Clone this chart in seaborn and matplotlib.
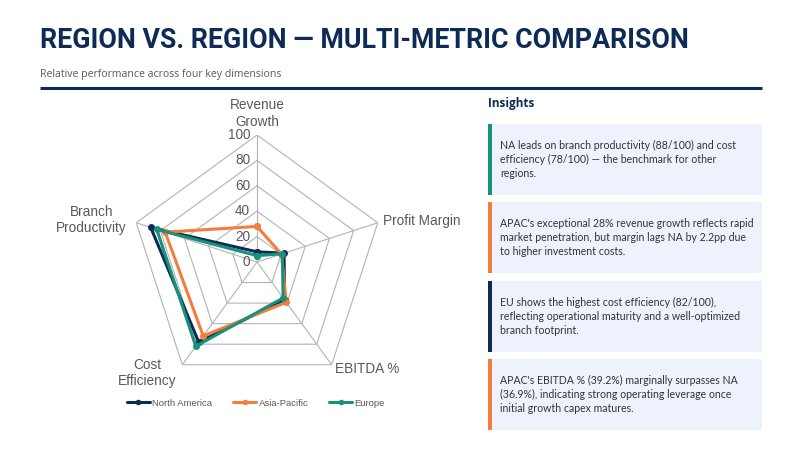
import numpy as np
import pandas as pd
import matplotlib
matplotlib.use("Agg")
import matplotlib.pyplot as plt
from matplotlib.patches import Rectangle
import seaborn as sns

metrics = ["Revenue Growth", "Profit Margin", "EBITDA %", "Cost Efficiency", "Branch Productivity"]
axis_labels = ["Revenue\nGrowth", "Profit Margin", "EBITDA %", "Cost\nEfficiency", "Branch\nProductivity"]
regions = ["North America", "Asia-Pacific", "Europe"]
na_vals = [8, 22.4, 36.9, 78, 88]
apac_vals = [28, 20.2, 39.2, 72, 76]
eu_vals = [5, 21, 35, 82, 83]
r_ticks = [0, 20, 40, 60, 80, 100]

insights = [
    "NA leads on branch productivity (88/100) and cost\nefficiency (78/100) \u2014 the benchmark for other\nregions.",
    "APAC's exceptional 28% revenue growth reflects rapid\nmarket penetration, but margin lags NA by 2.2pp due\nto higher investment costs.",
    "EU shows the highest cost efficiency (82/100),\nreflecting operational maturity and a well-optimized\nbranch footprint.",
    "APAC's EBITDA % (39.2%) marginally surpasses NA\n(36.9%), indicating strong operating leverage once\ninitial growth capex matures.",
]
accent = ["#17917A", "#F47C3C", "#0D2B55", "#F47C3C"]

colors = {"North America": "#0D2B55", "Asia-Pacific": "#F47C3C", "Europe": "#17917A"}
navy = "#0D2B55"
grey = "#595959"

sns.set_theme(style="white")
plt.rcParams["font.family"] = ["Liberation Sans", "DejaVu Sans"]

n = len(metrics)
theta = np.linspace(0, 2 * np.pi, n, endpoint=False)
theta_closed = np.append(theta, 2 * np.pi)

rows = []
for name, vals in zip(regions, [na_vals, apac_vals, eu_vals]):
    closed = list(vals) + [vals[0]]
    for t, v in zip(theta_closed, closed):
        rows.append({"theta": t, "value": v, "region": name})
df = pd.DataFrame(rows)

fig = plt.figure(figsize=(8, 4.5), dpi=100)

# header
fig.text(40 / 800, 1 - 40 / 450, "REGION VS. REGION \u2014 MULTI-METRIC COMPARISON",
         fontsize=19.3, fontweight="bold", color=navy, va="center", ha="left",
         family=["Liberation Sans Narrow", "Roboto", "DejaVu Sans"])
fig.text(40 / 800, 1 - 74 / 450, "Relative performance across four key dimensions",
         fontsize=7.6, color=grey, va="center", ha="left", family=["Open Sans", "DejaVu Sans"])

# overlay axes in pixel units for rule and cards
bg = fig.add_axes([0, 0, 1, 1], zorder=-1)
bg.set_xlim(0, 800)
bg.set_ylim(450, 0)
bg.axis("off")
bg.plot([40, 762], [88, 88], color=navy, lw=2.2, solid_capstyle="butt")

bg.text(488, 104, "Insights", fontsize=8.5, fontweight="bold", color=navy, va="center",
        family=["Open Sans", "DejaVu Sans"])
card_tops = [124, 202, 281, 359]
card_h = 71
for top, txt, c in zip(card_tops, insights, accent):
    bg.add_patch(Rectangle((488, top), 274, card_h, facecolor="#EEF2FC", edgecolor="none"))
    bg.add_patch(Rectangle((488, top), 4, card_h, facecolor=c, edgecolor="none"))
    bg.text(500, top + card_h / 2, txt, fontsize=7.6, color="#333333", va="center", ha="left",
            linespacing=1.35, family=["Lato", "DejaVu Sans"])

# radar
cx, cy, rad = 257, 262, 127
ax = fig.add_axes([(cx - rad) / 800, (450 - cy - rad) / 450, 2 * rad / 800, 2 * rad / 450],
                  projection="polar")
ax.set_theta_zero_location("N")
ax.set_theta_direction(-1)
ax.set_ylim(0, 100)
ax.grid(False)
ax.spines["polar"].set_visible(False)
ax.set_xticks([])
ax.set_yticks([])
ax.patch.set_alpha(0)

for r in r_ticks[1:]:
    ax.plot(theta_closed, [r] * (n + 1), color="#B3B3B3", lw=0.8, zorder=1)
for t in theta:
    ax.plot([t, t], [0, 100], color="#B3B3B3", lw=0.8, zorder=1)

sns.lineplot(data=df, x="theta", y="value", hue="region", palette=colors,
             sort=False, estimator=None, marker="o", markersize=5, markeredgewidth=0,
             linewidth=2.2, ax=ax, zorder=3)
ax.set_xlabel("")
ax.set_ylabel("")

for r in r_ticks:
    ax.annotate(str(r), xy=(0, r), xytext=(-5, 0), textcoords="offset points",
                ha="right", va="center", fontsize=9.8, color=grey)

label_pos = [(117, "center", "center"), (104, "left", "center"), (104, "left", "center"),
             (108, "right", "center"), (108, "right", "center")]
for t, lab, (r, ha, va) in zip(theta, axis_labels, label_pos):
    ax.text(t, r, lab, ha=ha, va=va, fontsize=9.8, color=grey, multialignment="center")

handles, labels = ax.get_legend_handles_labels()
ax.get_legend().remove()
for h in handles:
    h.set_markersize(4)
fig.legend(handles, labels, loc="center", bbox_to_anchor=(256 / 800, 1 - 403 / 450),
           ncol=3, frameon=False, fontsize=6.8, labelcolor=grey, handlelength=2.4,
           columnspacing=2.2, handletextpad=0.3)

fig.savefig("out.png", dpi=100)
